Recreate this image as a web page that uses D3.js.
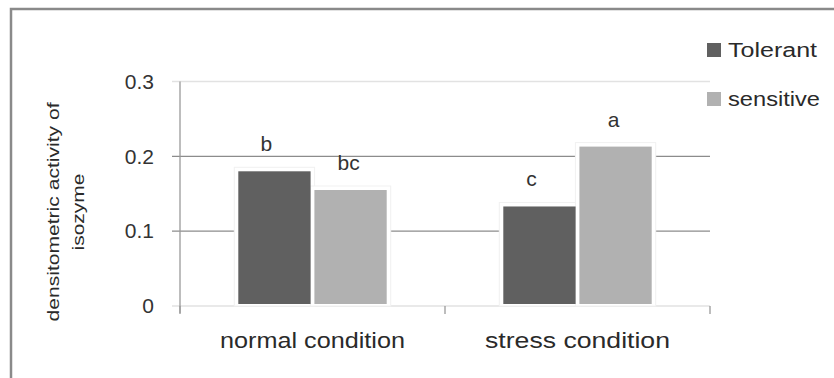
<!DOCTYPE html>
<html><head><meta charset="utf-8">
<script src="https://cdn.jsdelivr.net/npm/d3@7"></script>
<style>
html,body{margin:0;padding:0;background:#fff;}
svg{display:block;font-family:"Liberation Sans",Arial,sans-serif;}
</style></head>
<body>
<svg id="chart" width="834" height="378"></svg>
<script>
const categories = ["normal condition", "stress condition"];
const series = ["Tolerant", "sensitive"];
const tolerantValues = [0.18, 0.133];
const sensitiveValues = [0.155, 0.213];
const tolerantLetters = ["b", "c"];
const sensitiveLetters = ["bc", "a"];
const yTicks = [0, 0.1, 0.2, 0.3];
const yTitle = ["densitometric activity of", "isozyme"];

const colors = {Tolerant: "#606060", sensitive: "#b1b1b1"};
const svg = d3.select("#chart");

// outer frame
svg.append("rect").attr("x", 11).attr("y", 9).attr("width", 900).attr("height", 500)
  .attr("fill", "none").attr("stroke", "#8a8a8a").attr("stroke-width", 2.5);

const x0 = 180, x1 = 710;
const x = d3.scaleBand().domain(categories).range([x0, x1]).padding(0);
const xSub = d3.scaleBand().domain(series)
  .range([x.bandwidth() * 0.22, x.bandwidth() * 0.78]).paddingInner(0.05);
const y = d3.scaleLinear().domain([0, 0.3]).range([306, 81.5]);

// gridlines
svg.append("g").selectAll("line").data(yTicks).join("line")
  .attr("x1", 172).attr("x2", x1)
  .attr("y1", d => y(d)).attr("y2", d => y(d))
  .attr("stroke", d => (d === 0 || d === 0.3) ? "#e2e2e2" : "#8c8c8c")
  .attr("stroke-width", 1.3);

// y axis labels
const yAxis = svg.append("g").attr("transform", `translate(${x0},0)`)
  .call(d3.axisLeft(y).tickValues(yTicks).tickSize(0).tickPadding(26)
    .tickFormat(d => d === 0 ? "0" : d3.format(".1f")(d)));
yAxis.select(".domain").remove();
yAxis.selectAll("text").attr("font-size", 21).attr("fill", "#333")
  .attr("font-family", "Liberation Sans, Arial, sans-serif");

// y axis line
svg.append("line").attr("x1", x0).attr("x2", x0).attr("y1", y(0.3)).attr("y2", y(0) + 7)
  .attr("stroke", "#9a9a9a").attr("stroke-width", 1.3);

// x axis ticks
const xTicks = [x0, x0 + x.step(), x1];
svg.append("g").selectAll("line").data(xTicks).join("line")
  .attr("x1", d => d).attr("x2", d => d).attr("y1", y(0)).attr("y2", y(0) + 8)
  .attr("stroke", "#9a9a9a").attr("stroke-width", 1.3);

// data rows
const rows = [];
categories.forEach((c, i) => {
  rows.push({cat: c, s: "Tolerant", v: tolerantValues[i], lab: tolerantLetters[i]});
  rows.push({cat: c, s: "sensitive", v: sensitiveValues[i], lab: sensitiveLetters[i]});
});

// white halos
svg.append("g").selectAll("rect").data(rows).join("rect")
  .attr("x", d => x(d.cat) + xSub(d.s) - 4)
  .attr("y", d => y(d.v) - 4)
  .attr("width", xSub.bandwidth() + 8)
  .attr("height", d => y(0) - y(d.v) + 4)
  .attr("fill", "#fff").attr("stroke", "#f1f1f1").attr("stroke-width", 1);

// bars
svg.append("g").selectAll("rect").data(rows).join("rect")
  .attr("x", d => x(d.cat) + xSub(d.s))
  .attr("y", d => y(d.v))
  .attr("width", xSub.bandwidth())
  .attr("height", d => y(0) - y(d.v) - 2)
  .attr("fill", d => colors[d.s]);

// letters
svg.append("g").selectAll("text").data(rows).join("text")
  .attr("x", d => x(d.cat) + xSub(d.s) + xSub.bandwidth() / 2 + (d.s === "Tolerant" ? -8 : -2))
  .attr("y", d => y(d.v) - 20)
  .attr("text-anchor", "middle").attr("font-size", 21).attr("fill", "#333")
  .text(d => d.lab);

// x labels
svg.append("g").selectAll("text").data(categories).join("text")
  .attr("x", d => x(d) + x.bandwidth() / 2)
  .attr("y", 348)
  .attr("text-anchor", "middle").attr("font-size", 22).attr("fill", "#2a2a2a")
  .attr("textLength", 185).attr("lengthAdjust", "spacingAndGlyphs")
  .text(d => d);

// y title
svg.append("g").selectAll("text").data(yTitle).join("text")
  .attr("transform", (d, i) => `translate(${i === 0 ? 59 : 84},212) rotate(-90)`)
  .attr("text-anchor", "middle").attr("font-size", 16).attr("fill", "#2a2a2a")
  .attr("textLength", (d, i) => i === 0 ? 219 : 77).attr("lengthAdjust", "spacingAndGlyphs")
  .text(d => d);

// legend
const lg = svg.append("g").selectAll("g").data(series).join("g")
  .attr("transform", (d, i) => `translate(707,${43 + i * 49})`);
lg.append("rect").attr("width", 14).attr("height", 14).attr("fill", d => colors[d]);
lg.append("text").attr("x", 21).attr("y", 14).attr("font-size", 20).attr("fill", "#2a2a2a")
  .attr("textLength", (d, i) => i === 0 ? 89 : 92).attr("lengthAdjust", "spacingAndGlyphs")
  .text(d => d);
</script>
</body></html>
